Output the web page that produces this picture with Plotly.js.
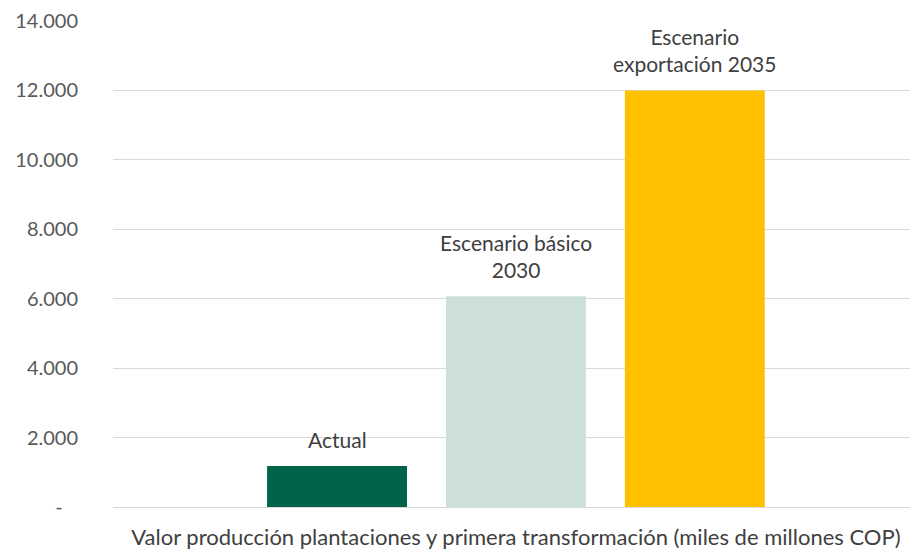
<!DOCTYPE html>
<html>
<head>
<meta charset="utf-8">
<script src="https://cdn.plot.ly/plotly-3.0.1.min.js"></script>
<style>html,body{margin:0;padding:0;background:#fff;}#chart{width:910px;height:556px;}</style>
</head>
<body>
<div id="chart"></div>
<script>
const category = ["Valor producción plantaciones y primera transformación (miles de millones COP)"];
const seriesNames = ["Actual", "Escenario básico<br>2030", "Escenario<br>exportación 2035"];
const seriesValues = [1180, 6070, 12000];
const seriesColors = ["#00634a", "#cce0d9", "#ffc000"];
const yTickVals = [0, 2000, 4000, 6000, 8000, 10000, 12000, 14000];
const yTickText = ["-\u00a0\u00a0\u00a0", "2.000", "4.000", "6.000", "8.000", "10.000", "12.000", "14.000"];

const BARGAP = 0.334;
const BARGROUPGAP = 0.218;
const FONT = "Lato, 'Open Sans', sans-serif";

const traces = seriesNames.map((name, i) => ({
  type: "bar",
  name: name,
  x: category,
  y: [seriesValues[i]],
  marker: {color: seriesColors[i]},
  hoverinfo: "skip"
}));

// labels above each bar, placed at the bar's group slot centre (category index 0)
const n = seriesNames.length;
const slot = (1 - BARGAP) / n;
const annotations = seriesNames.map((name, i) => ({
  xref: "x", yref: "y",
  x: (i - (n - 1) / 2) * slot,
  y: seriesValues[i],
  text: name,
  showarrow: false,
  xanchor: "center", yanchor: "bottom",
  yshift: 12,
  font: {family: FONT, size: 21, color: "#404040"}
}));

const layout = {
  width: 910, height: 556,
  margin: {l: 113, r: 0, t: 21, b: 49},
  paper_bgcolor: "#ffffff", plot_bgcolor: "#ffffff",
  showlegend: false,
  barmode: "group",
  bargap: BARGAP,
  bargroupgap: BARGROUPGAP,
  font: {family: FONT, color: "#595959"},
  annotations: annotations,
  xaxis: {
    type: "category",
    range: [-0.5, 0.489],
    showgrid: false, zeroline: false, showline: false,
    ticks: "",
    ticklabelstandoff: 15,
    tickfont: {size: 22, color: "#404040"}
  },
  yaxis: {
    range: [0, 14000],
    tickvals: yTickVals, ticktext: yTickText,
    showgrid: true, gridcolor: "#d9d9d9", gridwidth: 1,
    zeroline: true, zerolinecolor: "#d9d9d9", zerolinewidth: 1,
    showline: false, ticks: "",
    ticklabelstandoff: 34,
    tickfont: {size: 20, color: "#595959"}
  }
};

Plotly.newPlot("chart", traces, layout, {displayModeBar: false, staticPlot: true});
</script>
</body>
</html>
